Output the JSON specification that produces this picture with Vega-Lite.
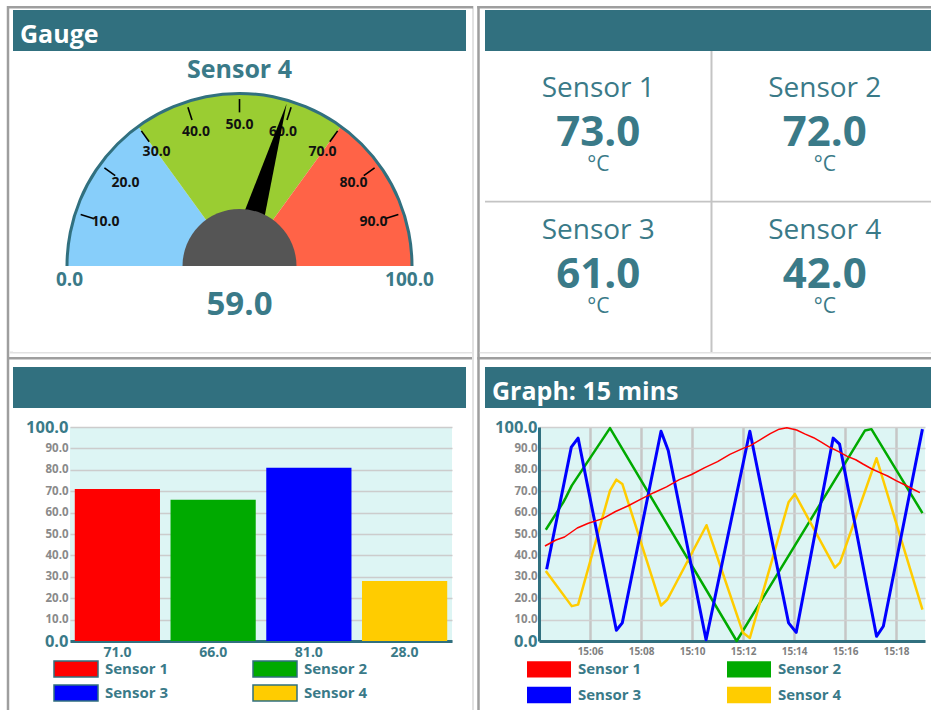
{
"$schema": "https://vega.github.io/schema/vega-lite/v6.json",
"padding": 0,
"background": "white",
"config": {"font": "Open Sans", "view": {"stroke": null}},
"datasets": {
 "gaugeBands": [{"from":0,"to":30,"band":"low"},{"from":30,"to":70,"band":"mid"},{"from":70,"to":100,"band":"high"}],
 "gauge": [{"sensor":"Sensor 4","value":59,"min":0,"max":100}],
 "gaugeTicks": [{"v":10},{"v":20},{"v":30},{"v":40},{"v":50},{"v":60},{"v":70},{"v":80},{"v":90}],
 "gaugeEnds": [{"v":0},{"v":100}],
 "readings": [
  {"sensor":"Sensor 1","value":73,"unit":"°C","col":1,"row":1},
  {"sensor":"Sensor 2","value":72,"unit":"°C","col":2,"row":1},
  {"sensor":"Sensor 3","value":61,"unit":"°C","col":1,"row":2},
  {"sensor":"Sensor 4","value":42,"unit":"°C","col":2,"row":2}
 ],
 "bars": [
  {"sensor":"Sensor 1","value":71},
  {"sensor":"Sensor 2","value":66},
  {"sensor":"Sensor 3","value":81},
  {"sensor":"Sensor 4","value":28}
 ],
 "series": [
  {"sensor":"Sensor 1","t":"2024-01-01T15:04:14","v":44.4},
  {"sensor":"Sensor 1","t":"2024-01-01T15:04:40","v":47.2},
  {"sensor":"Sensor 1","t":"2024-01-01T15:05:00","v":48.6},
  {"sensor":"Sensor 1","t":"2024-01-01T15:05:30","v":52.8},
  {"sensor":"Sensor 1","t":"2024-01-01T15:05:56","v":55.0},
  {"sensor":"Sensor 1","t":"2024-01-01T15:06:30","v":57.2},
  {"sensor":"Sensor 1","t":"2024-01-01T15:07:00","v":60.5},
  {"sensor":"Sensor 1","t":"2024-01-01T15:07:30","v":63.2},
  {"sensor":"Sensor 1","t":"2024-01-01T15:08:02","v":66.5},
  {"sensor":"Sensor 1","t":"2024-01-01T15:08:30","v":69.3},
  {"sensor":"Sensor 1","t":"2024-01-01T15:09:00","v":72.0},
  {"sensor":"Sensor 1","t":"2024-01-01T15:09:30","v":75.4},
  {"sensor":"Sensor 1","t":"2024-01-01T15:09:59","v":77.8},
  {"sensor":"Sensor 1","t":"2024-01-01T15:10:30","v":81.0},
  {"sensor":"Sensor 1","t":"2024-01-01T15:11:00","v":83.8},
  {"sensor":"Sensor 1","t":"2024-01-01T15:11:29","v":87.2},
  {"sensor":"Sensor 1","t":"2024-01-01T15:12:00","v":90.0},
  {"sensor":"Sensor 1","t":"2024-01-01T15:12:16","v":91.2},
  {"sensor":"Sensor 1","t":"2024-01-01T15:12:40","v":94.0},
  {"sensor":"Sensor 1","t":"2024-01-01T15:13:04","v":96.9},
  {"sensor":"Sensor 1","t":"2024-01-01T15:13:25","v":99.0},
  {"sensor":"Sensor 1","t":"2024-01-01T15:13:43","v":99.6},
  {"sensor":"Sensor 1","t":"2024-01-01T15:14:06","v":98.6},
  {"sensor":"Sensor 1","t":"2024-01-01T15:14:25","v":96.8},
  {"sensor":"Sensor 1","t":"2024-01-01T15:14:46","v":95.0},
  {"sensor":"Sensor 1","t":"2024-01-01T15:15:05","v":92.8},
  {"sensor":"Sensor 1","t":"2024-01-01T15:15:25","v":90.4},
  {"sensor":"Sensor 1","t":"2024-01-01T15:15:45","v":88.5},
  {"sensor":"Sensor 1","t":"2024-01-01T15:16:04","v":86.4},
  {"sensor":"Sensor 1","t":"2024-01-01T15:16:25","v":84.7},
  {"sensor":"Sensor 1","t":"2024-01-01T15:16:43","v":82.6},
  {"sensor":"Sensor 1","t":"2024-01-01T15:17:02","v":80.5},
  {"sensor":"Sensor 1","t":"2024-01-01T15:17:22","v":78.7},
  {"sensor":"Sensor 1","t":"2024-01-01T15:17:40","v":77.1},
  {"sensor":"Sensor 1","t":"2024-01-01T15:18:01","v":74.8},
  {"sensor":"Sensor 1","t":"2024-01-01T15:18:20","v":73.0},
  {"sensor":"Sensor 1","t":"2024-01-01T15:18:40","v":70.9},
  {"sensor":"Sensor 1","t":"2024-01-01T15:18:56","v":69.3},
  {"sensor":"Sensor 2","t":"2024-01-01T15:04:16","v":52.0},
  {"sensor":"Sensor 2","t":"2024-01-01T15:04:57","v":64.8},
  {"sensor":"Sensor 2","t":"2024-01-01T15:05:03","v":67.0},
  {"sensor":"Sensor 2","t":"2024-01-01T15:05:17","v":72.6},
  {"sensor":"Sensor 2","t":"2024-01-01T15:06:47","v":99.5},
  {"sensor":"Sensor 2","t":"2024-01-01T15:11:45","v":0.0},
  {"sensor":"Sensor 2","t":"2024-01-01T15:16:47","v":98.4},
  {"sensor":"Sensor 2","t":"2024-01-01T15:17:02","v":99.0},
  {"sensor":"Sensor 2","t":"2024-01-01T15:19:02","v":59.8},
  {"sensor":"Sensor 3","t":"2024-01-01T15:04:18","v":33.5},
  {"sensor":"Sensor 3","t":"2024-01-01T15:05:16","v":90.6},
  {"sensor":"Sensor 3","t":"2024-01-01T15:05:32","v":94.8},
  {"sensor":"Sensor 3","t":"2024-01-01T15:07:02","v":5.0},
  {"sensor":"Sensor 3","t":"2024-01-01T15:07:16","v":8.5},
  {"sensor":"Sensor 3","t":"2024-01-01T15:08:47","v":98.0},
  {"sensor":"Sensor 3","t":"2024-01-01T15:09:04","v":89.0},
  {"sensor":"Sensor 3","t":"2024-01-01T15:10:33","v":0.6},
  {"sensor":"Sensor 3","t":"2024-01-01T15:12:16","v":98.0},
  {"sensor":"Sensor 3","t":"2024-01-01T15:13:47","v":8.5},
  {"sensor":"Sensor 3","t":"2024-01-01T15:14:05","v":4.0},
  {"sensor":"Sensor 3","t":"2024-01-01T15:15:32","v":94.8},
  {"sensor":"Sensor 3","t":"2024-01-01T15:15:47","v":92.0},
  {"sensor":"Sensor 3","t":"2024-01-01T15:17:14","v":2.2},
  {"sensor":"Sensor 3","t":"2024-01-01T15:17:30","v":6.9},
  {"sensor":"Sensor 3","t":"2024-01-01T15:19:02","v":99.0},
  {"sensor":"Sensor 4","t":"2024-01-01T15:04:16","v":32.7},
  {"sensor":"Sensor 4","t":"2024-01-01T15:05:17","v":16.3},
  {"sensor":"Sensor 4","t":"2024-01-01T15:05:32","v":17.0},
  {"sensor":"Sensor 4","t":"2024-01-01T15:06:47","v":70.3},
  {"sensor":"Sensor 4","t":"2024-01-01T15:07:02","v":75.4},
  {"sensor":"Sensor 4","t":"2024-01-01T15:07:16","v":73.4},
  {"sensor":"Sensor 4","t":"2024-01-01T15:08:47","v":16.6},
  {"sensor":"Sensor 4","t":"2024-01-01T15:09:02","v":19.4},
  {"sensor":"Sensor 4","t":"2024-01-01T15:10:34","v":54.1},
  {"sensor":"Sensor 4","t":"2024-01-01T15:12:00","v":3.8},
  {"sensor":"Sensor 4","t":"2024-01-01T15:12:16","v":1.4},
  {"sensor":"Sensor 4","t":"2024-01-01T15:13:47","v":64.8},
  {"sensor":"Sensor 4","t":"2024-01-01T15:14:02","v":68.7},
  {"sensor":"Sensor 4","t":"2024-01-01T15:15:36","v":34.3},
  {"sensor":"Sensor 4","t":"2024-01-01T15:15:48","v":36.6},
  {"sensor":"Sensor 4","t":"2024-01-01T15:17:14","v":85.4},
  {"sensor":"Sensor 4","t":"2024-01-01T15:19:02","v":14.7}
 ]
},
"hconcat": [
 {"width": 13, "height": 710, "data": {"values": [{}]},
  "layer": [
   {"mark": {"type": "rect", "color": "#9e9e9e"},
    "encoding": {"x": {"datum": 6.75, "type": "quantitative", "scale": {"domain": [0, 13], "nice": false, "zero": false}, "axis": null}, "x2": {"datum": 9.25},
                 "y": {"datum": 6, "type": "quantitative", "scale": {"domain": [0, 710], "reverse": true, "nice": false, "zero": false}, "axis": null}, "y2": {"datum": 710}}},
   {"mark": {"type": "rect", "color": "#9e9e9e"},
    "encoding": {"x": {"datum": 7, "type": "quantitative"}, "x2": {"datum": 13}, "y": {"datum": 6, "type": "quantitative"}, "y2": {"datum": 8.5}}},
   {"mark": {"type": "rect", "color": "#e2e2e2"},
    "encoding": {"x": {"datum": 9.25, "type": "quantitative"}, "x2": {"datum": 13}, "y": {"datum": 351.5, "type": "quantitative"}, "y2": {"datum": 353.5}}},
   {"mark": {"type": "rect", "color": "#9e9e9e"},
    "encoding": {"x": {"datum": 7, "type": "quantitative"}, "x2": {"datum": 13}, "y": {"datum": 357, "type": "quantitative"}, "y2": {"datum": 359.5}}}
  ]},
 {"vconcat": [
   {"width": 453, "height": 10, "data": {"values": [{}]},
    "mark": {"type": "rect", "color": "#9e9e9e"},
    "encoding": {"y": {"datum": 6, "type": "quantitative", "scale": {"domain": [0, 10], "reverse": true, "nice": false, "zero": false}, "axis": null}, "y2": {"datum": 8.5}}},
   {"width": 453, "height": 41, "view": {"fill": "#31707f", "stroke": null},
    "data": {"values": [{"label": "Gauge"}]},
    "mark": {"type": "text", "align": "left", "baseline": "alphabetic", "dx": 7, "dy": 12, "color": "white", "fontSize": 25, "fontWeight": "bold"},
    "encoding": {"x": {"datum": 0, "type": "quantitative", "scale": {"domain": [0, 1]}, "axis": null}, "text": {"field": "label", "type": "nominal"}}},
   {"width": 453, "height": 301,
    "layer": [
     {"data": {"name": "gaugeBands"},
      "mark": {"type": "arc", "outerRadius": 172, "yOffset": 64.5},
      "encoding": {
       "theta": {"field": "from", "type": "quantitative", "stack": null, "scale": {"domain": [0, 100], "range": [-1.5708, 1.5708]}},
       "theta2": {"field": "to"},
       "color": {"field": "band", "type": "nominal", "scale": {"domain": ["low", "mid", "high"], "range": ["#87cefa", "#9acd32", "#ff6347"]}, "legend": null}
      }},
     {"data": {"name": "gauge"},
      "mark": {"type": "arc", "innerRadius": 171, "outerRadius": 174, "color": "#31707f", "yOffset": 64.5},
      "encoding": {
       "theta": {"field": "min", "type": "quantitative", "stack": null, "scale": {"domain": [0, 100], "range": [-1.5708, 1.5708]}},
       "theta2": {"field": "max"}
      }},
     {"data": {"name": "gaugeTicks"},
      "mark": {"type": "point", "shape": "M0,-0.92L0,-1", "size": 111556, "filled": false, "color": "#000000", "strokeWidth": 1.6, "opacity": 1, "yOffset": 64.5},
      "encoding": {
       "angle": {"field": "v", "type": "quantitative", "scale": {"domain": [0, 100], "range": [-90, 90]}}
      }},
     {"data": {"name": "gaugeTicks"},
      "mark": {"type": "text", "radius": 141, "yOffset": 64.5, "fontSize": 14, "fontWeight": "bold", "color": "#111111"},
      "encoding": {
       "theta": {"field": "v", "type": "quantitative", "stack": null, "scale": {"domain": [0, 100], "range": [-1.5708, 1.5708]}},
       "text": {"field": "v", "type": "quantitative", "format": ".1f"}
      }},
     {"data": {"name": "gauge"},
      "mark": {"type": "point", "shape": "M-0.085,-0.05L0,-0.995L0.085,-0.05Z", "size": 115600, "filled": true, "color": "#000000", "strokeWidth": 0, "opacity": 1, "yOffset": 64.5},
      "encoding": {
       "angle": {"field": "value", "type": "quantitative", "scale": {"domain": [0, 100], "range": [-90, 90]}}
      }},
     {"data": {"name": "gauge"},
      "mark": {"type": "arc", "outerRadius": 57, "color": "#555555", "yOffset": 64.5},
      "encoding": {
       "theta": {"field": "min", "type": "quantitative", "stack": null, "scale": {"domain": [0, 100], "range": [-1.5708, 1.5708]}},
       "theta2": {"field": "max"}
      }},
     {"data": {"name": "gaugeEnds"},
      "mark": {"type": "text", "radius": 170, "yOffset": 64.5, "dy": 14, "fontSize": 19, "fontWeight": "bold", "color": "#3a7a88"},
      "encoding": {
       "theta": {"field": "v", "type": "quantitative", "stack": null, "scale": {"domain": [0, 100], "range": [-1.5708, 1.5708]}},
       "text": {"field": "v", "type": "quantitative", "format": ".1f"}
      }},
     {"data": {"name": "gauge"},
      "mark": {"type": "text", "yOffset": 64.5, "dy": 39, "fontSize": 33, "fontWeight": "bold", "color": "#3a7a88"},
      "encoding": {"text": {"field": "value", "type": "quantitative", "format": ".1f"}}},
     {"data": {"name": "gauge"},
      "mark": {"type": "text", "yOffset": 64.5, "dy": -196, "fontSize": 25, "fontWeight": "bold", "color": "#3a7a88"},
      "encoding": {"text": {"field": "sensor", "type": "nominal"}}}
    ]},
   {"width": 453, "height": 15, "data": {"values": [{}]},
    "layer": [
     {"mark": {"type": "rect", "color": "#e2e2e2"},
      "encoding": {"y": {"datum": 0, "type": "quantitative", "scale": {"domain": [0, 15], "reverse": true, "nice": false, "zero": false}, "axis": null}, "y2": {"datum": 1.5}}},
     {"mark": {"type": "rect", "color": "#9e9e9e"},
      "encoding": {"y": {"datum": 5, "type": "quantitative"}, "y2": {"datum": 7.5}}}
    ]},
   {"width": 453, "height": 41, "view": {"fill": "#31707f", "stroke": null},
    "data": {"values": [{"label": ""}]},
    "mark": {"type": "text", "align": "left", "baseline": "alphabetic", "dx": 7, "dy": 12, "color": "white", "fontSize": 25, "fontWeight": "bold"},
    "encoding": {"x": {"datum": 0, "type": "quantitative", "scale": {"domain": [0, 1]}, "axis": null}, "text": {"field": "label", "type": "nominal"}}},
   {"width": 453, "height": 6, "data": {"values": [{}]}, "mark": {"type": "text"}, "encoding": {"text": {"value": ""}}},
   {"hconcat": [
     {"width": 57, "height": 214, "data": {"values": [{}]}, "mark": {"type": "text"}, "encoding": {"text": {"value": ""}}},
     {"width": 382, "height": 214, "view": {"fill": "#ddf5f4", "stroke": null},
      "data": {"name": "bars"},
      "encoding": {
       "x": {"field": "sensor", "type": "nominal", "sort": null, "scale": {"paddingInner": 0.11, "paddingOuter": 0.05},
             "axis": {"labels": false, "ticks": false, "title": null, "domainColor": "#31707f", "domainWidth": 3}}
      },
      "layer": [
       {"mark": {"type": "bar"},
        "encoding": {
         "y": {"field": "value", "type": "quantitative", "scale": {"domain": [0, 100], "nice": false},
               "axis": {"title": null, "values": [0, 10, 20, 30, 40, 50, 60, 70, 80, 90, 100], "format": ".1f", "grid": true, "gridColor": "#cccccc", "gridWidth": 1.5, "domain": false, "ticks": false, "labelPadding": 2, "labelFontWeight": "bold", "labelOverlap": false, "labelFlush": false,
                        "labelFontSize": {"condition": {"test": "datum.value == 0 || datum.value == 100", "value": 16.5}, "value": 11.5},
                        "labelColor": {"condition": {"test": "datum.value == 0 || datum.value == 100", "value": "#3a7a88"}, "value": "#8a8a8a"}}},
         "color": {"field": "sensor", "type": "nominal", "scale": {"domain": ["Sensor 1", "Sensor 2", "Sensor 3", "Sensor 4"], "range": ["#ff0000", "#00aa00", "#0000ff", "#ffcc00"]},
                   "legend": {"orient": "none", "legendX": -16, "legendY": 233, "columns": 2, "direction": "horizontal", "title": null, "symbolType": "M-2.75,-1L2.75,-1L2.75,1L-2.75,1Z", "symbolSize": 256, "symbolOffset": 13, "symbolStrokeWidth": 1.5, "symbolOpacity": 1, "labelFontSize": 15, "labelFontWeight": "bold", "labelColor": "#3a7a88", "labelOffset": 20, "columnPadding": 81, "rowPadding": 2,
                              "encode": {"symbols": {"update": {"stroke": {"value": "#31707f"}, "strokeWidth": {"value": 1.5}}}}}}
        }},
       {"mark": {"type": "text", "baseline": "top", "dy": 5, "fontSize": 14, "fontWeight": "bold", "color": "#3a7a88"},
        "encoding": {
         "y": {"datum": 0, "type": "quantitative", "scale": {"domain": [0, 100], "nice": false},
               "axis": {"title": null, "values": [0, 10, 20, 30, 40, 50, 60, 70, 80, 90, 100], "format": ".1f", "grid": true, "gridColor": "#cccccc", "gridWidth": 1.5, "domain": false, "ticks": false, "labelPadding": 2, "labelFontWeight": "bold", "labelOverlap": false, "labelFlush": false,
                        "labelFontSize": {"condition": {"test": "datum.value == 0 || datum.value == 100", "value": 16.5}, "value": 11.5},
                        "labelColor": {"condition": {"test": "datum.value == 0 || datum.value == 100", "value": "#3a7a88"}, "value": "#8a8a8a"}}},
         "text": {"field": "value", "type": "quantitative", "format": ".1f"}
        }}
      ]}
   ], "spacing": 0, "bounds": "flush", "resolve": {"scale": {"color": "independent"}, "legend": {"color": "independent"}}}
 ], "spacing": 0, "bounds": "full", "resolve": {"scale": {"color": "independent"}, "legend": {"color": "independent"}}},
 {"width": 19, "height": 710, "data": {"values": [{}]},
  "layer": [
   {"mark": {"type": "rect", "color": "#e2e2e2"},
    "encoding": {"x": {"datum": 6, "type": "quantitative", "scale": {"domain": [0, 19], "nice": false, "zero": false}, "axis": null}, "x2": {"datum": 8},
                 "y": {"datum": 6, "type": "quantitative", "scale": {"domain": [0, 710], "reverse": true, "nice": false, "zero": false}, "axis": null}, "y2": {"datum": 710}}},
   {"mark": {"type": "rect", "color": "#9e9e9e"},
    "encoding": {"x": {"datum": 11.25, "type": "quantitative"}, "x2": {"datum": 13.75}, "y": {"datum": 6, "type": "quantitative"}, "y2": {"datum": 710}}},
   {"mark": {"type": "rect", "color": "#9e9e9e"},
    "encoding": {"x": {"datum": 0, "type": "quantitative"}, "x2": {"datum": 7}, "y": {"datum": 6, "type": "quantitative"}, "y2": {"datum": 8.5}}},
   {"mark": {"type": "rect", "color": "#9e9e9e"},
    "encoding": {"x": {"datum": 11.25, "type": "quantitative"}, "x2": {"datum": 19}, "y": {"datum": 6, "type": "quantitative"}, "y2": {"datum": 8.5}}},
   {"mark": {"type": "rect", "color": "#e2e2e2"},
    "encoding": {"x": {"datum": 0, "type": "quantitative"}, "x2": {"datum": 6}, "y": {"datum": 352, "type": "quantitative"}, "y2": {"datum": 353.5}}},
   {"mark": {"type": "rect", "color": "#e2e2e2"},
    "encoding": {"x": {"datum": 13.75, "type": "quantitative"}, "x2": {"datum": 19}, "y": {"datum": 352, "type": "quantitative"}, "y2": {"datum": 353.5}}},
   {"mark": {"type": "rect", "color": "#9e9e9e"},
    "encoding": {"x": {"datum": 0, "type": "quantitative"}, "x2": {"datum": 6}, "y": {"datum": 357, "type": "quantitative"}, "y2": {"datum": 359.5}}},
   {"mark": {"type": "rect", "color": "#9e9e9e"},
    "encoding": {"x": {"datum": 11.25, "type": "quantitative"}, "x2": {"datum": 19}, "y": {"datum": 357, "type": "quantitative"}, "y2": {"datum": 359.5}}}
  ]},
 {"vconcat": [
   {"width": 453, "height": 10, "data": {"values": [{}]},
    "mark": {"type": "rect", "color": "#9e9e9e"},
    "encoding": {"y": {"datum": 6, "type": "quantitative", "scale": {"domain": [0, 10], "reverse": true, "nice": false, "zero": false}, "axis": null}, "y2": {"datum": 8.5}}},
   {"width": 453, "height": 41, "view": {"fill": "#31707f", "stroke": null},
    "data": {"values": [{"label": ""}]},
    "mark": {"type": "text", "align": "left", "baseline": "alphabetic", "dx": 7, "dy": 12, "color": "white", "fontSize": 25, "fontWeight": "bold"},
    "encoding": {"x": {"datum": 0, "type": "quantitative", "scale": {"domain": [0, 1]}, "axis": null}, "text": {"field": "label", "type": "nominal"}}},
   {"width": 453, "height": 301,
    "layer": [
     {"data": {"values": [{}]},
      "mark": {"type": "rect", "color": "#c4c4c4"},
      "encoding": {"x": {"datum": 1.4956, "type": "quantitative", "scale": {"domain": [0.5, 2.5], "nice": false, "zero": false}, "axis": null}, "x2": {"datum": 1.5044}}},
     {"data": {"values": [{}]},
      "mark": {"type": "rect", "color": "#c4c4c4"},
      "encoding": {"y": {"datum": 1.478, "type": "quantitative", "scale": {"domain": [0.4205, 2.5477], "reverse": true, "nice": false, "zero": false}, "axis": null}, "y2": {"datum": 1.492}}},
     {"data": {"name": "readings"},
      "mark": {"type": "text", "dy": -44, "fontSize": 28, "color": "#3a7a88"},
      "encoding": {
       "x": {"field": "col", "type": "quantitative", "axis": null},
       "y": {"field": "row", "type": "quantitative", "axis": null},
       "text": {"field": "sensor", "type": "nominal"}
      }},
     {"data": {"name": "readings"},
      "mark": {"type": "text", "fontSize": 42, "fontWeight": "bold", "color": "#3a7a88"},
      "encoding": {
       "x": {"field": "col", "type": "quantitative", "axis": null},
       "y": {"field": "row", "type": "quantitative", "axis": null},
       "text": {"field": "value", "type": "quantitative", "format": ".1f"}
      }},
     {"data": {"name": "readings"},
      "mark": {"type": "text", "dy": 32, "fontSize": 21, "color": "#3a7a88"},
      "encoding": {
       "x": {"field": "col", "type": "quantitative", "axis": null},
       "y": {"field": "row", "type": "quantitative", "axis": null},
       "text": {"field": "unit", "type": "nominal"}
      }}
    ]},
   {"width": 453, "height": 15, "data": {"values": [{}]},
    "layer": [
     {"mark": {"type": "rect", "color": "#e2e2e2"},
      "encoding": {"y": {"datum": 0, "type": "quantitative", "scale": {"domain": [0, 15], "reverse": true, "nice": false, "zero": false}, "axis": null}, "y2": {"datum": 1.5}}},
     {"mark": {"type": "rect", "color": "#9e9e9e"},
      "encoding": {"y": {"datum": 5, "type": "quantitative"}, "y2": {"datum": 7.5}}}
    ]},
   {"width": 453, "height": 41, "view": {"fill": "#31707f", "stroke": null},
    "data": {"values": [{"label": "Graph: 15 mins"}]},
    "mark": {"type": "text", "align": "left", "baseline": "alphabetic", "dx": 7, "dy": 12.5, "color": "white", "fontSize": 25, "fontWeight": "bold"},
    "encoding": {"x": {"datum": 0, "type": "quantitative", "scale": {"domain": [0, 1]}, "axis": null}, "text": {"field": "label", "type": "nominal"}}},
   {"width": 453, "height": 6, "data": {"values": [{}]}, "mark": {"type": "text"}, "encoding": {"text": {"value": ""}}},
   {"hconcat": [
     {"width": 54, "height": 214, "data": {"values": [{}]}, "mark": {"type": "text"}, "encoding": {"text": {"value": ""}}},
     {"width": 386, "height": 214, "view": {"fill": "#ddf5f4", "stroke": null},
      "data": {"name": "series"},
      "encoding": {
       "x": {"field": "t", "type": "temporal",
             "scale": {"domain": [{"year": 2024, "month": 1, "date": 1, "hours": 15, "minutes": 4, "seconds": 0}, {"year": 2024, "month": 1, "date": 1, "hours": 15, "minutes": 19, "seconds": 8}]},
             "axis": {"title": null, "format": "%H:%M", "grid": true, "gridColor": "#c6c6c6", "gridWidth": 2.5, "domainColor": "#31707f", "domainWidth": 3, "ticks": false, "labelFontSize": 10, "labelFontWeight": "bold", "labelColor": "#808080", "labelPadding": 5, "labelFlush": false, "labelOverlap": false,
                      "values": [{"year": 2024, "month": 1, "date": 1, "hours": 15, "minutes": 6}, {"year": 2024, "month": 1, "date": 1, "hours": 15, "minutes": 8}, {"year": 2024, "month": 1, "date": 1, "hours": 15, "minutes": 10}, {"year": 2024, "month": 1, "date": 1, "hours": 15, "minutes": 12}, {"year": 2024, "month": 1, "date": 1, "hours": 15, "minutes": 14}, {"year": 2024, "month": 1, "date": 1, "hours": 15, "minutes": 16}, {"year": 2024, "month": 1, "date": 1, "hours": 15, "minutes": 18}]}},
       "y": {"field": "v", "type": "quantitative", "scale": {"domain": [0, 100], "nice": false},
             "axis": {"title": null, "values": [0, 10, 20, 30, 40, 50, 60, 70, 80, 90, 100], "format": ".1f", "grid": true, "gridColor": "#d0d0d0", "gridWidth": 1.5, "domain": true, "domainColor": "#31707f", "domainWidth": 3, "ticks": false, "labelPadding": 2, "labelFontWeight": "bold", "labelOverlap": false, "labelFlush": false,
                      "labelFontSize": {"condition": {"test": "datum.value == 0 || datum.value == 100", "value": 16.5}, "value": 11.5},
                      "labelColor": {"condition": {"test": "datum.value == 0 || datum.value == 100", "value": "#3a7a88"}, "value": "#8a8a8a"}}},
       "color": {"field": "sensor", "type": "nominal", "scale": {"domain": ["Sensor 1", "Sensor 2", "Sensor 3", "Sensor 4"], "range": ["#ff0000", "#00aa00", "#0000ff", "#ffcc00"]},
                 "legend": {"orient": "none", "legendX": -12, "legendY": 233, "columns": 2, "direction": "horizontal", "title": null,
                            "symbolType": "M-2.75,-0.9L2.75,-0.9M-2.75,-0.7L2.75,-0.7M-2.75,-0.5L2.75,-0.5M-2.75,-0.3L2.75,-0.3M-2.75,-0.1L2.75,-0.1M-2.75,0.1L2.75,0.1M-2.75,0.3L2.75,0.3M-2.75,0.5L2.75,0.5M-2.75,0.7L2.75,0.7M-2.75,0.9L2.75,0.9",
                            "symbolSize": 256, "symbolOffset": 13, "symbolStrokeWidth": 2, "symbolOpacity": 1, "labelFontSize": 15, "labelFontWeight": "bold", "labelColor": "#3a7a88", "labelOffset": 20, "columnPadding": 81, "rowPadding": 2,
                            "encode": {"symbols": {"update": {"strokeWidth": {"value": 2}}}}}}
      },
      "layer": [
       {"transform": [{"filter": "datum.sensor == 'Sensor 2' || datum.sensor == 'Sensor 4'"}],
        "mark": {"type": "line", "strokeWidth": 2.5, "strokeJoin": "round"}},
       {"transform": [{"filter": "datum.sensor == 'Sensor 3'"}],
        "mark": {"type": "line", "strokeWidth": 3, "strokeJoin": "round"}},
       {"transform": [{"filter": "datum.sensor == 'Sensor 1'"}],
        "mark": {"type": "line", "strokeWidth": 1.5, "strokeJoin": "round"}}
      ]}
   ], "spacing": 0, "bounds": "flush", "resolve": {"scale": {"color": "independent"}, "legend": {"color": "independent"}}}
 ], "spacing": 0, "bounds": "full", "resolve": {"scale": {"color": "independent"}, "legend": {"color": "independent"}}}
],
"spacing": 0,
"bounds": "full",
"resolve": {"scale": {"color": "independent"}, "legend": {"color": "independent"}}
}
